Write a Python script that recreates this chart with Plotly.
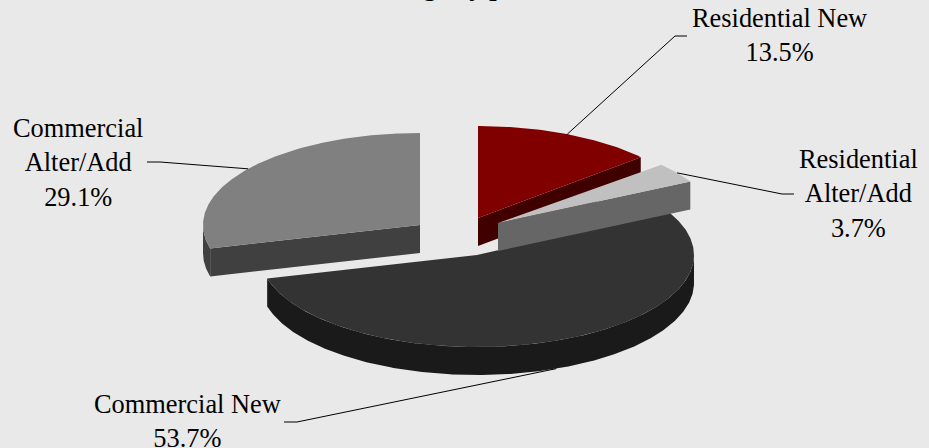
import math
import plotly.graph_objects as go

categories = ["Residential New", "Residential Alter/Add", "Commercial New", "Commercial Alter/Add"]
shares = [13.5, 3.7, 53.7, 29.1]
label_lines = [["Residential New"], ["Residential", "Alter/Add"], ["Commercial New"], ["Commercial", "Alter/Add"]]
top_colors = ["#800000", "#c0c0c0", "#333333", "#808080"]
side_colors = ["#400000", "#666666", "#1a1a1a", "#404040"]
title_text = "Percentage by permit"

# layout of the drawing, in pixels of the plot area
centers = [(478, 218), (498, 223), (477, 255), (420, 225)]
radii = [(217, 92), (218, 88), (217, 92), (217, 92)]
DEPTH = 28
label_pos = [(779, 2), (858, 143), (187, 388), (78, 112)]
elbows = [[(675, 36), (687, 36)], [(782, 194), (794, 194)], [(297, 422), (284, 422)], [(160, 162), (147, 162)]]
anchor_drop = [0, 0, DEPTH, 0]
BG = "#e9e9e9"
FONT = "Liberation Serif"
SIZE = 26.4


def pt(i, deg, dz=0):
    cx, cy = centers[i]
    a, b = radii[i]
    t = math.radians(deg)
    return cx + a * math.sin(t), cy - b * math.cos(t) + dz


def arc(i, d0, d1, dz=0):
    n = max(2, int(abs(d1 - d0) * 2))
    return [pt(i, d0 + (d1 - d0) * k / n, dz) for k in range(n + 1)]


def poly(points, color):
    return go.Scatter(
        x=[p[0] for p in points] + [points[0][0]],
        y=[p[1] for p in points] + [points[0][1]],
        mode="lines", line=dict(width=0, color=color),
        fill="toself", fillcolor=color, hoverinfo="skip", showlegend=False,
    )


total = sum(shares)
angles = []
acc = 0.0
for v in shares:
    angles.append((acc / total * 360, (acc + v) / total * 360))
    acc += v

fig = go.Figure()
for i in [2, 0, 3, 1]:
    d0, d1 = angles[i]
    apex = centers[i]
    # outer rim, where it faces the viewer
    r0, r1 = max(d0, 90), min(d1, 270)
    if r1 > r0:
        rim = arc(i, r0, r1) + arc(i, r1, r0, DEPTH)
        fig.add_trace(poly(rim, side_colors[i]))
    # cut face, where it faces the viewer
    if d1 < 180:
        e = pt(i, d1)
        fig.add_trace(poly([apex, e, (e[0], e[1] + DEPTH), (apex[0], apex[1] + DEPTH)], side_colors[i]))
    if d0 > 180:
        e = pt(i, d0)
        fig.add_trace(poly([apex, e, (e[0], e[1] + DEPTH), (apex[0], apex[1] + DEPTH)], side_colors[i]))
    fig.add_trace(poly([apex] + arc(i, d0, d1), top_colors[i]))

annotations = []
for i in range(4):
    mid = sum(angles[i]) / 2
    p = pt(i, mid, anchor_drop[i])
    path = [p] + elbows[i]
    fig.add_trace(go.Scatter(
        x=[q[0] for q in path], y=[q[1] for q in path], mode="lines",
        line=dict(color="#000000", width=1), hoverinfo="skip", showlegend=False,
    ))
    text = "<br>".join(label_lines[i] + [f"{shares[i]:.1f}%"])
    annotations.append(dict(
        x=label_pos[i][0], y=label_pos[i][1], xref="x", yref="y", text=text,
        showarrow=False, xanchor="center", yanchor="top", align="center",
        font=dict(family=FONT, size=SIZE, color="#000000"), borderpad=0,
    ))

annotations.append(dict(
    x=445, y=2, xref="x", yref="y", text=f"<b>{title_text}</b>",
    showarrow=False, xanchor="center", yanchor="bottom",
    font=dict(family=FONT, size=SIZE, color="#000000"), borderpad=0,
))

fig.update_layout(
    width=929, height=448, autosize=False,
    margin=dict(l=0, r=0, t=0, b=0),
    paper_bgcolor=BG, plot_bgcolor=BG,
    xaxis=dict(range=[0, 929], visible=False, fixedrange=True),
    yaxis=dict(range=[448, 0], visible=False, fixedrange=True),
    annotations=annotations, showlegend=False,
)
fig.write_html(
    "out.html", config=dict(displayModeBar=False),
    post_script="document.body.style.margin='0';document.body.style.overflow='hidden';"
                "document.documentElement.style.overflow='hidden';",
)
